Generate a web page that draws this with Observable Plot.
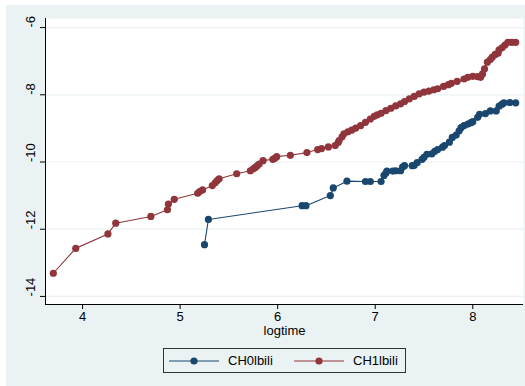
<!DOCTYPE html>
<html><head><meta charset="utf-8">
<script src="https://cdn.jsdelivr.net/npm/d3@7"></script>
<script src="https://cdn.jsdelivr.net/npm/@observablehq/plot@0.6"></script>
<style>
body{margin:0;font-family:"Liberation Sans",Arial,sans-serif;}
#wrap{position:relative;width:525px;height:386px;background:#fff;overflow:hidden;}
#bg{position:absolute;left:6px;top:5px;width:519px;height:381px;background:#eaf2f3;}
#chart{position:absolute;left:0;top:0;}
#legend{position:absolute;left:163px;top:348px;width:241px;height:23px;border:1px solid #333;background:#eaf2f3;font-size:13px;color:#000;}
#legend .it{position:absolute;top:0;height:23px;display:flex;align-items:center;}
</style></head>
<body>
<div id="wrap"><div id="bg"></div><div id="chart"></div>
<div id="legend"></div></div>
<script>
const seriesNames = ["CH0lbili", "CH1lbili"];
const seriesColors = ["#1a476f", "#90353b"];
const xTicks = [4, 5, 6, 7, 8];
const yTicks = [-6, -8, -10, -12, -14];
const xLabel = "logtime";

const ch0X = [5.25,5.29,6.25,6.29,6.54,6.57,6.71,6.90,6.95,7.06,7.09,7.11,7.12,7.18,7.21,7.26,7.28,7.30,7.38,7.40,7.43,7.48,7.50,7.53,7.58,7.61,7.64,7.69,7.71,7.76,7.79,7.83,7.86,7.88,7.91,7.95,7.98,8.00,8.05,8.07,8.13,8.18,8.24,8.27,8.30,8.32,8.38,8.44];
const ch0Y = [-12.46,-11.71,-11.30,-11.30,-11.00,-10.77,-10.57,-10.58,-10.58,-10.58,-10.40,-10.33,-10.27,-10.27,-10.26,-10.26,-10.15,-10.11,-10.11,-10.10,-10.02,-9.92,-9.86,-9.77,-9.76,-9.68,-9.63,-9.56,-9.51,-9.41,-9.27,-9.20,-9.07,-8.98,-8.92,-8.87,-8.83,-8.80,-8.67,-8.58,-8.56,-8.48,-8.48,-8.34,-8.28,-8.24,-8.23,-8.24];

const ch1X = [3.70,3.93,4.26,4.34,4.70,4.87,4.88,4.94,5.18,5.20,5.23,5.33,5.36,5.38,5.40,5.58,5.72,5.75,5.77,5.79,5.81,5.85,5.95,5.97,5.99,6.13,6.30,6.41,6.45,6.52,6.59,6.62,6.63,6.66,6.68,6.72,6.76,6.80,6.85,6.90,6.95,6.99,7.02,7.06,7.11,7.16,7.21,7.26,7.30,7.35,7.40,7.45,7.50,7.55,7.60,7.64,7.70,7.75,7.78,7.84,7.91,7.95,8.00,8.05,8.08,8.10,8.12,8.15,8.18,8.20,8.23,8.26,8.27,8.30,8.33,8.36,8.40,8.44];
const ch1Y = [-13.31,-12.57,-12.14,-11.82,-11.62,-11.42,-11.25,-11.11,-10.93,-10.88,-10.83,-10.70,-10.62,-10.55,-10.50,-10.35,-10.26,-10.20,-10.16,-10.11,-10.06,-9.96,-9.92,-9.89,-9.84,-9.80,-9.72,-9.63,-9.60,-9.55,-9.51,-9.42,-9.36,-9.25,-9.16,-9.10,-9.05,-8.99,-8.92,-8.82,-8.72,-8.64,-8.60,-8.55,-8.47,-8.40,-8.33,-8.27,-8.20,-8.12,-8.05,-7.97,-7.92,-7.89,-7.85,-7.82,-7.75,-7.70,-7.66,-7.60,-7.53,-7.48,-7.45,-7.46,-7.48,-7.38,-7.23,-7.03,-6.95,-6.88,-6.80,-6.76,-6.66,-6.60,-6.52,-6.44,-6.44,-6.44];

const s0 = ch0X.map((x, i) => ({x, y: ch0Y[i]}));
const s1 = ch1X.map((x, i) => ({x, y: ch1Y[i]}));

const xDomain = [3.62, 8.52];
const yDomain = [-14.24, -5.73];
const font = '"Liberation Sans", Arial, sans-serif';

const chart = Plot.plot({
  width: 525, height: 345,
  marginLeft: 45, marginRight: 2, marginTop: 18, marginBottom: 41,
  style: {background: "transparent", fontFamily: font, fontSize: "13px", color: "#000", overflow: "visible"},
  x: {domain: xDomain, ticks: xTicks, tickSize: 5, tickPadding: 2, tickFormat: d => String(d), label: null},
  y: {domain: yDomain, ticks: yTicks, tickSize: 5, tickFormat: () => "", label: null},
  marks: [
    Plot.frame({fill: "white", stroke: "none"}),
    Plot.ruleY(yTicks, {stroke: "#eaf2f3", strokeWidth: 1.2}),
    Plot.ruleX([xDomain[0]], {stroke: "#000", strokeWidth: 1}),
    Plot.ruleY([yDomain[0]], {stroke: "#000", strokeWidth: 1}),
    Plot.line(s0, {x: "x", y: "y", stroke: seriesColors[0], strokeWidth: 1.1}),
    Plot.dot(s0, {x: "x", y: "y", r: 3.6, fill: seriesColors[0], stroke: "none"}),
    Plot.line(s1, {x: "x", y: "y", stroke: seriesColors[1], strokeWidth: 1.1}),
    Plot.dot(s1, {x: "x", y: "y", r: 3.6, fill: seriesColors[1], stroke: "none"}),
    Plot.text(yTicks, {frameAnchor: "left", y: d => d, text: d => String(d), rotate: -90, dx: -15, fontSize: 13, fill: "#000"}),
    Plot.text([xLabel], {frameAnchor: "bottom", text: d => d, dy: 30, fontSize: 13, fill: "#000"})
  ]
});
document.getElementById("chart").appendChild(chart);

const leg = document.getElementById("legend");
const pos = [5, 130];
seriesNames.forEach((name, i) => {
  const it = document.createElement("div");
  it.className = "it";
  it.style.left = pos[i] + "px";
  it.innerHTML = `<svg width="50" height="10" style="margin-right:9px"><line x1="0" x2="50" y1="5" y2="5" stroke="${seriesColors[i]}" stroke-width="1.1"/><circle cx="25" cy="5" r="3.6" fill="${seriesColors[i]}"/></svg><span>${name}</span>`;
  leg.appendChild(it);
});
</script>
</body></html>
